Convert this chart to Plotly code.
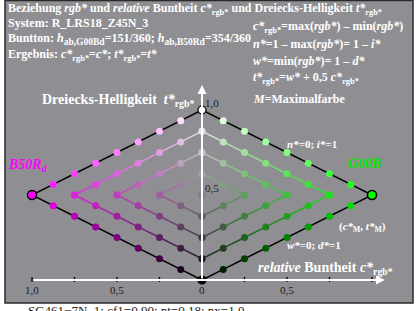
import plotly.graph_objects as go

W, H = 417, 311
X0, Y0, S = 202, 280, 170  # pixel of origin, pixels per unit

# ---- data ----
levels = [0.0, 0.125, 0.25, 0.375, 0.5, 0.625, 0.75, 0.875, 1.0]
side_names = ["B50R<sub>d</sub>", "G00B"]
side_sign = [-1, 1]
max_colors = [(1.0, 0.0, 1.0), (0.0, 1.0, 0.0)]
x_tick_vals = [-1.0, -0.75, -0.5, -0.25, 0.0, 0.25, 0.5, 0.75, 1.0]
x_tick_labels = {-1.0: "1,0", -0.5: "0,5", 0.0: "0", 0.5: "0,5"}
y_tick_vals = [0.25, 0.5, 0.75, 1.0]
y_tick_labels = {0.5: "0,5", 1.0: "1,0"}

BG = "rgb(143,143,147)"
FONT = "Liberation Serif"

def rgbstr(c, w, M):
    r = [min(1.0, w + c * m) for m in M]
    return "rgb(%d,%d,%d)" % tuple(round(v * 255) for v in r)

fig = go.Figure()

# axis lines (white) with arrows
fig.add_annotation(x=0, y=1.147, ax=0, ay=0, xref="x", yref="y", axref="x", ayref="y",
                   showarrow=True, arrowhead=2, arrowsize=0.9, arrowwidth=2,
                   arrowcolor="white", text="")
fig.add_annotation(x=1.076, y=0, ax=-1.0, ay=0, xref="x", yref="y", axref="x", ayref="y",
                   showarrow=True, arrowhead=2, arrowsize=0.9, arrowwidth=2,
                   arrowcolor="white", text="")

# ticks
for v in x_tick_vals:
    fig.add_trace(go.Scatter(x=[v, v], y=[-0.012, 0.018], mode="lines",
                             line=dict(color="black", width=1.3), hoverinfo="skip",
                             showlegend=False))
for v in y_tick_vals:
    fig.add_trace(go.Scatter(x=[-0.018, 0.012], y=[v, v], mode="lines",
                             line=dict(color="black", width=1.3), hoverinfo="skip",
                             showlegend=False))

# grid chevrons
for sgn, M in zip(side_sign, max_colors):
    px, py, pc = [], [], []
    for k in range(4):
        n = levels[k]
        cs = [c for c in levels if c <= 1 - 2 * n + 1e-9]
        nb = [(c, 1 - n - c, 1 - n - 0.5 * c) for c in cs]   # constant n*
        wb = [(c, n, n + 0.5 * c) for c in cs]               # constant w*
        for branch in (nb, wb):
            for (c1, w1, t1), (c2, w2, t2) in zip(branch[:-1], branch[1:]):
                col = "black" if k == 0 else rgbstr((c1 + c2) / 2, (w1 + w2) / 2, M)
                fig.add_trace(go.Scatter(x=[sgn * c1, sgn * c2], y=[t1, t2], mode="lines",
                                         line=dict(color=col, width=1.4),
                                         hoverinfo="skip", showlegend=False))
            for c, w, t in branch:
                px.append(sgn * c); py.append(t); pc.append(rgbstr(c, w, M))
    px.append(0); py.append(0.5); pc.append(rgbstr(0, 0.5, M))
    fig.add_trace(go.Scatter(x=px, y=py, mode="markers",
                             marker=dict(color=pc, size=7, line=dict(width=0)),
                             hoverinfo="skip", showlegend=False))
    fig.add_trace(go.Scatter(x=[sgn * 1.0], y=[0.5], mode="markers",
                             marker=dict(color=rgbstr(1, 0, M), size=9,
                                         line=dict(color="black", width=1.5)),
                             hoverinfo="skip", showlegend=False))

fig.add_trace(go.Scatter(x=[0, 0], y=[1.0, 0.0], mode="markers",
                         marker=dict(color=["white", "black"], size=8,
                                     line=dict(color="black", width=1.2)),
                         hoverinfo="skip", showlegend=False))

for v, lab in x_tick_labels.items():
    fig.add_annotation(x=v, y=(Y0 - 290) / S, xref="x", yref="y", text=lab, showarrow=False,
                       font=dict(family=FONT, size=11, color="#1a1a1a"), yanchor="middle")
for v, lab in y_tick_labels.items():
    fig.add_annotation(x=0.005, y=v + 0.04, xref="x", yref="y", text=lab, showarrow=False,
                       xanchor="left", font=dict(family=FONT, size=11, color="#1a1a1a"),
                       yanchor="middle")

def txt(x, y, s, size=12, color="white", anchor="left"):
    fig.add_annotation(x=(x - 2) / W, y=1 - y / H, xref="paper", yref="paper", text=s,
                       showarrow=False, xanchor=anchor, yanchor="middle",
                       font=dict(family=FONT, size=size, color=color))

def bsub(s):
    return '<sub><span style="font-size:9.5px">' + s + '</span></sub>'

txt(8, 9, "<b>Beziehung <i>rgb*</i> und <i>relative</i> Buntheit <i>c*</i><sub>rgb*</sub> und Dreiecks-Helligkeit <i>t*</i><sub>rgb*</sub></b>")
txt(8, 23, "<b>System: R_LRS18_Z45N_3</b>")
txt(8, 39, "<b>Buntton: <i>h</i>" + bsub("ab,G00Bd") + "=151/360; <i>h</i>" + bsub("ab,B50Rd") + "=354/360</b>")
txt(8, 55, "<b>Ergebnis: <i>c*</i><sub>rgb*</sub>=<i>c*</i>; <i>t*</i><sub>rgb*</sub>=<i>t*</i></b>")
txt(253, 27, "<b><i>c*</i><sub>rgb*</sub>=max(<i>rgb*</i>) – min(<i>rgb*</i>)</b>")
txt(253, 44, "<b><i>n*</i>=1 – max(<i>rgb*</i>)= 1 – <i>i*</i></b>")
txt(253, 61, "<b><i>w*</i>=min(<i>rgb*</i>)= 1 – <i>d*</i></b>")
txt(253, 78, "<b><i>t*</i><sub>rgb*</sub>=<i>w*</i> + 0,5 <i>c*</i><sub>rgb*</sub></b>")
txt(253, 99, "<b><i>M</i>=Maximalfarbe</b>")
txt(42, 101, "<b>Dreiecks-Helligkeit  <i>t*</i><sub>rgb*</sub></b>", size=14)
txt(8, 165, "<b><i>" + side_names[0] + "</i></b>", size=14, color="rgb(255,0,255)")
txt(348, 163, "<b><i>" + side_names[1] + "</i></b>", size=14, color="rgb(0,230,0)")
txt(287, 144, "<b><i>n*</i>=0; <i>i*</i>=1</b>", size=11)
txt(339, 227, "<b>(<i>c*</i><sub>M</sub>, <i>t*</i><sub>M</sub>)</b>", size=11)
txt(287, 245, "<b><i>w*</i>=0; <i>d*</i>=1</b>", size=11)
txt(258, 268, "<b><i>relative</i> Buntheit <i>c*</i><sub>rgb*</sub></b>", size=14)
txt(28, 310, "SG461−7N_1; cf1=0.90; nt=0.18; nx=1.0", size=13, color="#222")

fig.update_layout(
    width=W, height=H, margin=dict(l=0, r=0, t=0, b=0),
    paper_bgcolor="white", plot_bgcolor="rgba(0,0,0,0)",
    xaxis=dict(range=[(0 - X0) / S, (W - X0) / S], visible=False, fixedrange=True),
    yaxis=dict(range=[(Y0 - H) / S, Y0 / S], visible=False, fixedrange=True),
    shapes=[dict(type="rect", xref="paper", yref="paper", layer="below",
                 x0=5 / W, x1=413 / W, y0=1 - 303 / H, y1=1 - 0.5 / H,
                 fillcolor=BG, line=dict(color="#2a2a2a", width=1.5))],
)

fig.write_html("out.html", config={"displayModeBar": False},
               post_script="document.body.style.margin='0';document.body.style.overflow='hidden';")
